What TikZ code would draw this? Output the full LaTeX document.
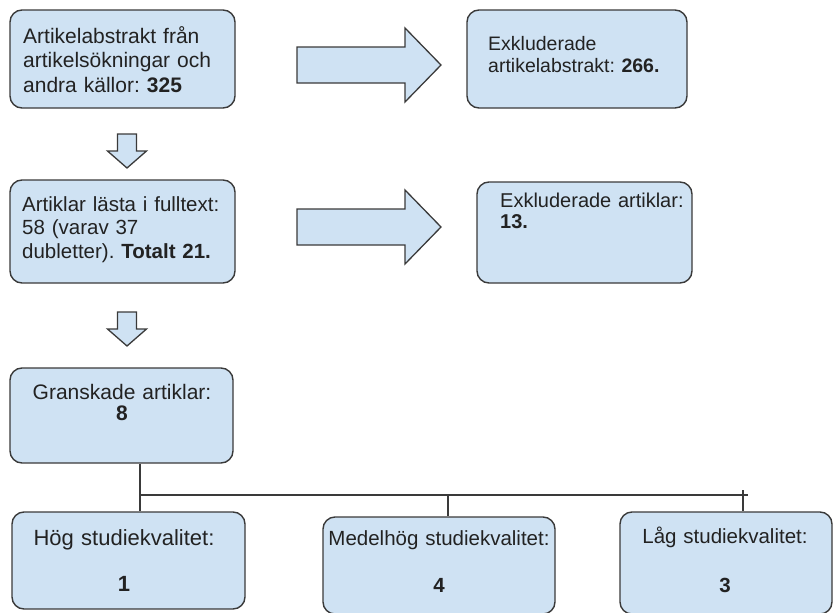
\documentclass[tikz,border=0pt]{standalone}
\usepackage{fontspec}
\setmainfont{Liberation Sans}
\frenchspacing
\definecolor{boxblue}{HTML}{CFE2F3}
\definecolor{edgegray}{HTML}{3A3A3A}
\definecolor{textgray}{HTML}{222222}
\begin{document}
\begin{tikzpicture}[x=1pt, y=-1pt,
	mybox/.style={draw=edgegray, line width=1.4pt, fill=boxblue, rounded corners=12pt, inner sep=0pt},
	mytext/.style={anchor=base west, inner sep=0pt, align=left, text=textgray, text width=#1},
	mytext/.default=215pt,
	mymid/.style={anchor=base, inner sep=0pt, align=center, text=textgray, text width=250pt, font=\fontsize{20.5}{23.5}\selectfont},
	myarrow/.style={draw=edgegray, line width=1.3pt, fill=boxblue, line join=miter},
	myline/.style={draw=edgegray, line width=1.2pt}]
	\useasboundingbox (0, 0) rectangle (833, 613);

	% boxes
	\node[mybox, minimum width=225pt, minimum height=98pt] at (122.5, 59) (abstr) {};
	\node[mybox, minimum width=220pt, minimum height=98pt] at (577, 59) (exabstr) {};
	\node[mybox, minimum width=225pt, minimum height=103pt] at (122.5, 231.5) (fulltext) {};
	\node[mybox, minimum width=215pt, minimum height=101pt] at (584.5, 232.5) (exart) {};
	\node[mybox, minimum width=223pt, minimum height=95pt] at (121.5, 415.5) (granskade) {};
	\node[mybox, minimum width=233pt, minimum height=97pt] at (128.5, 560.5) (hog) {};
	\node[mybox, minimum width=232pt, minimum height=97pt] at (439, 565.5) (medel) {};
	\node[mybox, minimum width=212pt, minimum height=102pt] at (726, 563) (lag) {};

	% texts
	\node[mytext, font=\fontsize{21}{24.5}\selectfont] at (23, 43) (abstrtxt) {Artikelabstrakt från\\artikelsökningar och\\andra källor: \textbf{325}};
	\node[mytext=195pt, font=\fontsize{19.5}{22}\selectfont] at (488, 50) (exabstrtxt) {Exkluderade\\artikelabstrakt: \textbf{266.}};
	\node[mytext, font=\fontsize{20.5}{23.5}\selectfont] at (22, 211) (fulltexttxt) {Artiklar lästa i fulltext:\\58 (varav 37\\dubletter). \textbf{Totalt 21.}};
	\node[mytext=200pt, font=\fontsize{20}{21}\selectfont] at (500, 207) (exarttxt) {Exkluderade artiklar:\\\textbf{13.}};
	\node[mymid, font=\fontsize{21}{21}\selectfont] at (122, 399) (granskadetxt) {Granskade artiklar:\\\textbf{8}};
	\node[mymid, font=\fontsize{22}{23.5}\selectfont] at (124, 545) (hogtxt) {Hög studiekvalitet:\\[23pt]\textbf{1}};
	\node[mymid] at (439, 545) (medeltxt) {Medelhög studiekvalitet:\\[23.5pt]\textbf{4}};
	\node[mymid] at (725, 543) (lagtxt) {Låg studiekvalitet:\\[25.5pt]\textbf{3}};

	% block arrows
	\foreach \ay in {65, 227}
		\draw[myarrow, shift={(297, \ay)}] (0, -18) -- (108, -18) -- (108, -37) -- (144, 0) -- (108, 37) -- (108, 18) -- (0, 18) -- cycle;
	\foreach \ay in {134, 312}
		\draw[myarrow, shift={(127, \ay)}] (-9.5, 0) -- (9.5, 0) -- (9.5, 17) -- (19.5, 17) -- (0, 34) -- (-19.5, 17) -- (-9.5, 17) -- cycle;

	% tree below
	\coordinate (split) at (140, 495);
	\coordinate (splitend) at (748, 495);
	\coordinate (j7) at (448, 494);
	\coordinate (j8) at (743, 490);
	\path[myline]
	(granskade.south -| split) edge (hog.north -| split)
	(split) edge (splitend)
	(j7) edge (j7 |- medel.north)
	(j8) edge (j8 |- lag.north);
\end{tikzpicture}
\end{document}
